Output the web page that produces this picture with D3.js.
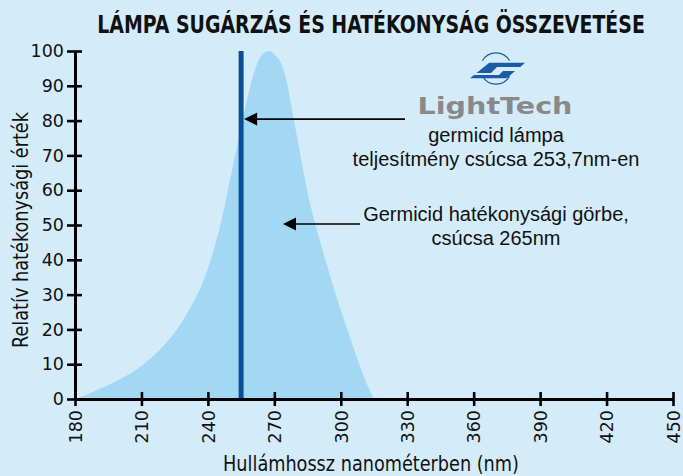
<!DOCTYPE html>
<html><head><meta charset="utf-8">
<script src="https://cdn.jsdelivr.net/npm/d3@7"></script>
<style>html,body{margin:0;padding:0;background:#d4ecfa;} svg{display:block}</style>
</head><body>
<svg id="c" width="683" height="476"></svg>
<script>
const title = "LÁMPA SUGÁRZÁS ÉS HATÉKONYSÁG ÖSSZEVETÉSE";
const xLabel = "Hullámhossz nanométerben (nm)";
const yLabel = "Relatív hatékonysági érték";
const xTicks = [180,210,240,270,300,330,360,390,420,450];
const yTicks = [0,10,20,30,40,50,60,70,80,90,100];
const curveNm  = [180,190,200,210,218,226,230,234,238,242,246,250,253,256,259,262,265,267.7,270,273,275.5,278,280.5,283,285.5,289.5,294,298.5,303.5,308.5,312,315];
const curveVal = [0,2.6,5.6,9.5,14,20,24,28.5,34,41.5,51,63,72,81,89.5,96,99.3,100,99,96.5,91.5,83,74.5,66,58,48,38,28.5,19,9.8,4,0];
const lampNm = [255];
const lampVal = [100];
const lampNote = ["germicid lámpa", "teljesítmény csúcsa 253,7nm-en"];
const curveNote = ["Germicid hatékonysági görbe,", "csúcsa 265nm"];
const brand = "LightTech";

const svg = d3.select("#c");
const W = 683, H = 476;
svg.append("rect").attr("width", W).attr("height", H).attr("fill", "#d4ecfa");

const x = d3.scaleLinear().domain([180, 450]).range([75, 673]);
const y = d3.scaleLinear().domain([0, 100]).range([399, 51]);

// helper: draw text and squeeze it horizontally to a target width
function fitText(str, target, transform, attrs) {
  const t = svg.append("text").attr("x", 0).attr("y", 0).attr("text-anchor", "middle").text(str);
  Object.entries(attrs).forEach(([k, v]) => t.attr(k, v));
  const len = t.node().getComputedTextLength();
  t.attr("transform", `${transform} scale(${target / len},1)`);
  return t;
}

const fontCond = "'Liberation Sans Narrow','Arial Narrow','DejaVu Sans Condensed',sans-serif";
// title
fitText(title, 548, "translate(371,33)", {
  "font-family": fontCond, "font-weight": "bold", "font-size": 25, "fill": "#111"
});

// area
const pts = curveNm.map((d, i) => [d, curveVal[i]]);
const area = d3.area().x(d => x(d[0])).y0(y(0)).y1(d => y(d[1])).curve(d3.curveMonotoneX);
svg.append("path").datum(pts).attr("d", area).attr("fill", "#a3d8f5");

// lamp line
svg.selectAll(".lamp").data(lampNm).enter().append("line")
  .attr("x1", d => x(d)).attr("x2", d => x(d))
  .attr("y1", y(0)).attr("y2", (d, i) => y(lampVal[i]))
  .attr("stroke", "#0a4f96").attr("stroke-width", 5);

// axes
const fontTick = "'DejaVu Sans',sans-serif";
const gy = svg.append("g").attr("transform", `translate(${x(180)},0)`)
  .call(d3.axisLeft(y).tickValues(yTicks).tickSizeInner(8).tickSizeOuter(0).tickPadding(3));
gy.selectAll(".tick line").attr("x1", 7);
const gx = svg.append("g").attr("transform", `translate(0,${y(0)})`)
  .call(d3.axisBottom(x).tickValues(xTicks).tickSizeInner(7).tickSizeOuter(0));
gx.selectAll(".tick line").attr("y1", -7);
[gx, gy].forEach(g => {
  g.select(".domain").attr("stroke", "#000").attr("stroke-width", 3);
  g.selectAll(".tick line").attr("stroke", "#000").attr("stroke-width", 2.6);
  g.selectAll("text").attr("font-family", fontTick).attr("font-size", 17.5).attr("fill", "#111");
});
gx.selectAll(".tick text")
  .attr("transform", "rotate(-90)").attr("text-anchor", "end")
  .attr("x", -11).attr("y", 0).attr("dy", "0.36em");

// axis labels
fitText(xLabel, 296, "translate(371,471)", {"font-family": fontCond, "font-size": 22, "fill": "#111"});
fitText(yLabel, 236, "translate(28,230) rotate(-90)", {"font-family": fontCond, "font-size": 22, "fill": "#111"});

// arrows
function arrow(x1, x2, yy) {
  svg.append("line").attr("x1", x1 + 10).attr("x2", x2).attr("y1", yy).attr("y2", yy)
    .attr("stroke", "#000").attr("stroke-width", 1.6);
  svg.append("path").attr("d", `M${x1},${yy} L${x1 + 13},${yy - 6.5} L${x1 + 13},${yy + 6.5} Z`).attr("fill", "#000");
}
arrow(x(lampNm[0]) + 3, 405, y(80) - 1.5);
arrow(283, 360, y(50) - 1);

const fontNote = "'Liberation Sans',Arial,sans-serif";
function note(lines, ys) {
  lines.forEach((t, i) => svg.append("text").attr("x", 496).attr("y", ys[i])
    .attr("text-anchor", "middle").attr("font-family", fontNote).attr("font-size", 20)
    .attr("fill", "#111").text(t));
}
note(lampNote, [141.5, 165.5]);
note(curveNote, [220.5, 245]);

// logo
const logo = svg.append("g");
const arcG = d3.arc().innerRadius(15).outerRadius(16.2);
logo.append("path").attr("transform", "translate(496,68.5)")
  .attr("d", arcG({startAngle: -1.05, endAngle: 1.05})).attr("fill", "#1c5ba6");
logo.append("path").attr("transform", "translate(496,68.5)")
  .attr("d", arcG({startAngle: Math.PI - 1.05, endAngle: Math.PI + 1.05})).attr("fill", "#1c5ba6");
logo.append("path").attr("d", "M489.3,62.7 L525,62.7 L520.3,67 L497,67 L491,73 L476.5,73 Z").attr("fill", "#1c5ba6");
logo.append("path").attr("d", "M470,78.3 L506.7,78.3 L515,71 L503,71 L499,75 L474,75 Z").attr("fill", "#1c5ba6");
fitText(brand, 155, "translate(495,114)", {
  "font-family": "'DejaVu Sans',sans-serif", "font-weight": "bold", "font-size": 23, "fill": "#898989"
});
</script>
</body></html>
